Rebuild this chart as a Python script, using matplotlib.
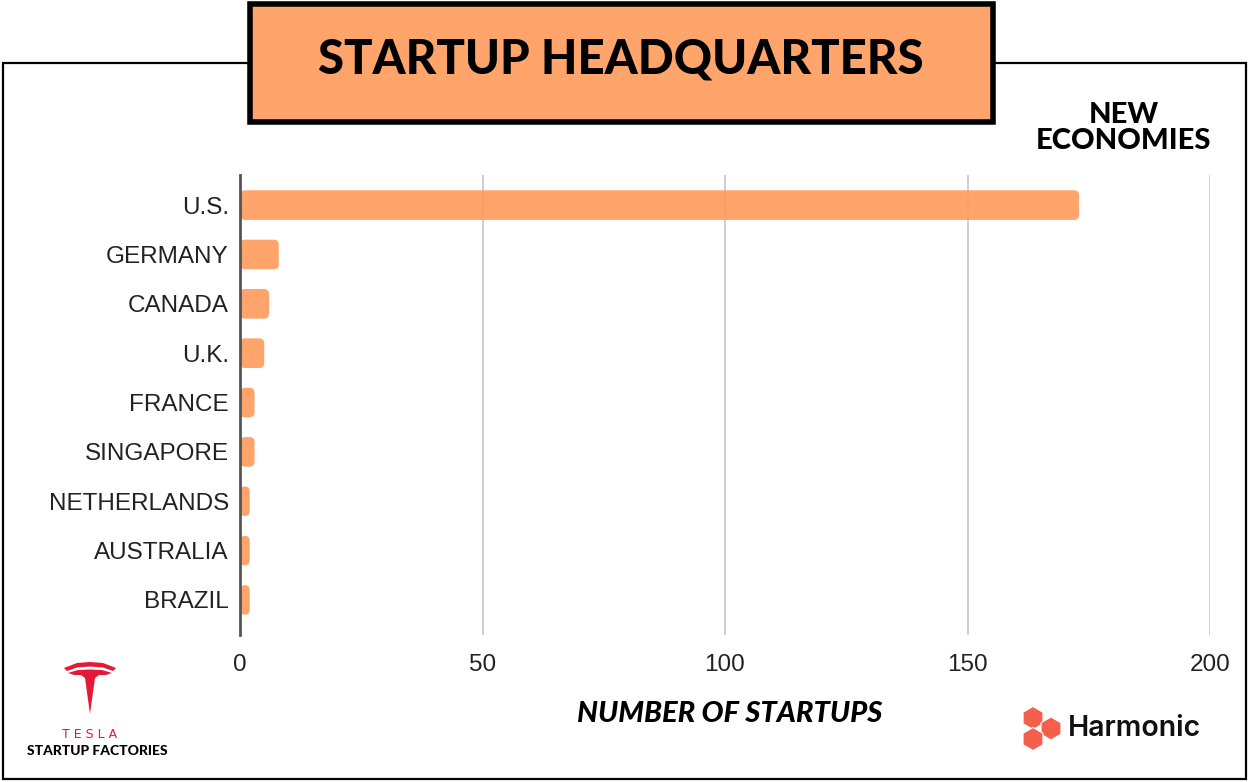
import matplotlib.pyplot as plt
from matplotlib.patches import Rectangle, FancyBboxPatch, Polygon, RegularPolygon

countries = ['U.S.', 'GERMANY', 'CANADA', 'U.K.', 'FRANCE', 'SINGAPORE',
             'NETHERLANDS', 'AUSTRALIA', 'BRAZIL']
startups = [173, 8, 6, 5, 3, 3, 2, 2, 2]
x_ticks = [0, 50, 100, 150, 200]

W, H = 1249, 782
fig = plt.figure(figsize=(W / 100, H / 100), dpi=100)


def px(x, y):
    # pixel coords (top-left origin) -> figure fraction
    return x / W, 1 - y / H


def inch(x, y):
    # pixel coords -> inches for dpi_scale_trans (keeps shapes undistorted)
    return x / 100, (H - y) / 100


# outer frame
fig.add_artist(Rectangle(px(3, 779), 1243 / W, 716 / H, transform=fig.transFigure,
                         fill=False, edgecolor='black', linewidth=1.6, zorder=1))

# title box
fig.add_artist(Rectangle(px(250, 122), 743 / W, 118 / H, transform=fig.transFigure,
                         facecolor='#FFA56B', edgecolor='black', linewidth=4, zorder=2))
fig.text(*px(621, 60), 'STARTUP HEADQUARTERS', ha='center', va='center',
         fontsize=34, fontweight='black', family='Lato', zorder=3)

fig.text(*px(1124, 128), 'NEW\nECONOMIES', ha='center', va='center',
         fontsize=21, fontweight='black', family='Lato', linespacing=1.0)

# chart
ax = fig.add_axes([240 / W, 1 - 635 / H, 970 / W, 460 / H])
bars = ax.barh(range(len(countries)), startups, height=0.6, color='#FF9A5A', alpha=0.9, zorder=2)
xscale = 970 / 200
yscale = 49.4
for b in bars:
    x, y = b.get_x(), b.get_y()
    w, h = b.get_width(), b.get_height()
    b.set_visible(False)
    ax.add_patch(FancyBboxPatch((x, y), w, h,
                                boxstyle='round,pad=0,rounding_size=%f' % (5 / xscale),
                                mutation_aspect=xscale / yscale,
                                facecolor='#FF9A5A', alpha=0.9, edgecolor='none', zorder=2))

ax.set_xlim(0, 200)
ax.set_ylim(8.71, -0.61)
ax.set_xticks(x_ticks)
ax.set_yticks(range(len(countries)))
ax.set_yticklabels(countries)
ax.tick_params(axis='both', length=0, labelsize=17.5, colors='#222222')
ax.tick_params(axis='y', pad=8)
ax.tick_params(axis='x', pad=14)
for lab in ax.get_xticklabels() + ax.get_yticklabels():
    lab.set_family('Liberation Sans')
ax.grid(axis='x', color='#cccccc', linewidth=1.3, zorder=0)
ax.set_axisbelow(True)
for s in ['top', 'right', 'bottom']:
    ax.spines[s].set_visible(False)
ax.spines['left'].set_color('#555555')
ax.spines['left'].set_linewidth(2)
ax.spines['left'].set_zorder(3)
ax.patch.set_alpha(0)

fig.text(*px(730, 714), 'NUMBER OF STARTUPS', ha='center', va='center',
         fontsize=21, fontweight='black', style='italic', family='Lato')

# tesla logo (rough)
red = '#E31937'
arc = Polygon([inch(64, 668), inch(77, 663), inch(90, 662), inch(103, 663), inch(116, 668),
               inch(113, 671), inch(103, 667.5), inch(90, 666.5), inch(77, 667.5), inch(67, 671)],
              closed=True, transform=fig.dpi_scale_trans, facecolor=red, edgecolor='none')
stem = Polygon([inch(68, 673), inch(78, 670), inch(90, 669.5), inch(102, 670), inch(112, 673),
                inch(106, 675), inch(99, 675), inch(95, 678), inch(90, 714),
                inch(85, 678), inch(81, 675), inch(74, 675)],
               closed=True, transform=fig.dpi_scale_trans, facecolor=red, edgecolor='none')
fig.add_artist(arc)
fig.add_artist(stem)
fig.text(*px(90, 735), 'T E S L A', ha='center', va='center', fontsize=9,
         color=red, family='DejaVu Sans')
fig.text(*px(97, 751), 'STARTUP FACTORIES', ha='center', va='center', fontsize=10,
         fontweight='black', family='Lato')

# harmonic logo
hexc = '#F4604C'
for cx, cy in [(1033, 718), (1051, 728.5), (1033, 739)]:
    fig.add_artist(RegularPolygon(inch(cx, cy), 6, radius=11.5 / 100,
                                  transform=fig.dpi_scale_trans,
                                  facecolor=hexc, edgecolor='white', linewidth=0.8))
fig.text(*px(1068, 729), 'Harmonic', ha='left', va='center', fontsize=20.5,
         fontweight='semibold', family='Inter', color='#111111')

fig.savefig('out.png', dpi=100)
